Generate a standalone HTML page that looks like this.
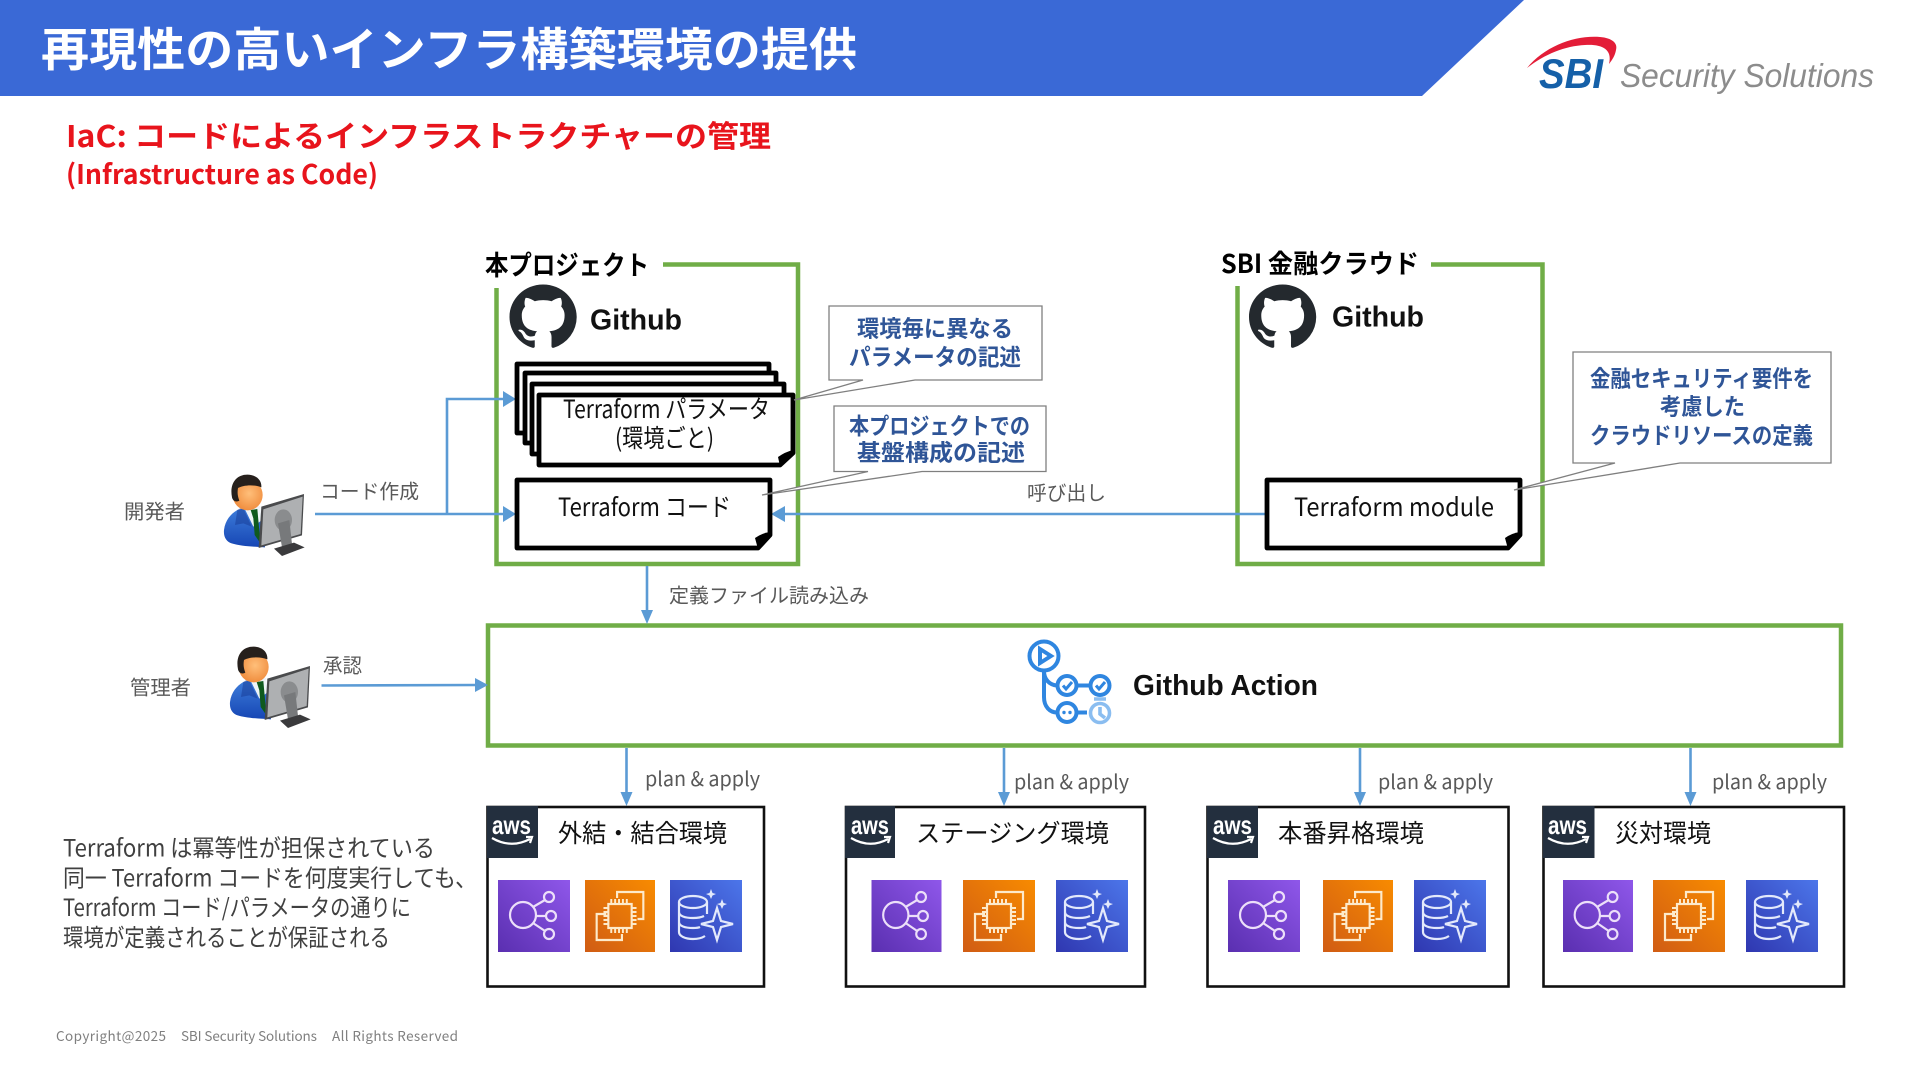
<!DOCTYPE html>
<html lang="ja"><head><meta charset="utf-8"><title>再現性の高いインフラ構築環境の提供</title>
<style>
html,body{margin:0;padding:0;background:#fff;width:1920px;height:1080px;overflow:hidden}
svg{display:block}
text{font-family:"Noto Sans CJK JP","Liberation Sans",sans-serif}
.lib{font-family:"Liberation Sans","Noto Sans CJK JP",sans-serif}
.b{font-weight:700}
.gr{fill:#595959;font-size:20px}
.blk{fill:#111;font-size:25px}
.cal{fill:#2F5597;font-size:23px;font-weight:700}
.lt{fill:#404040;font-size:24px}
.doc{fill:#fff;stroke:#000;stroke-width:4.800;stroke-linejoin:round}
.gb{fill:none;stroke:#70AD47;stroke-width:4.5;stroke-linejoin:miter}
.ar{stroke:#5B9BD5;stroke-width:2.6;fill:none}
.ah{fill:#5B9BD5}
.co{fill:#fff;stroke:#7f7f7f;stroke-width:1.3}
.env{fill:#fff;stroke:#111;stroke-width:2.6}
</style></head><body>
<svg xmlns="http://www.w3.org/2000/svg" width="1920" height="1080" viewBox="0 0 1920 1080">
<defs>
<linearGradient id="gp" x1="0" y1="1" x2="1" y2="0"><stop offset="0" stop-color="#5a2fb0"/><stop offset="1" stop-color="#8f57ea"/></linearGradient>
<linearGradient id="go" x1="0" y1="1" x2="1" y2="0"><stop offset="0" stop-color="#d05c14"/><stop offset="1" stop-color="#f88b00"/></linearGradient>
<linearGradient id="gb" x1="0" y1="1" x2="1" y2="0"><stop offset="0" stop-color="#2f37b0"/><stop offset="1" stop-color="#4c76ea"/></linearGradient>
<linearGradient id="suit" x1="0" y1="0" x2="0" y2="1"><stop offset="0" stop-color="#3f7fdc"/><stop offset="1" stop-color="#1646b4"/></linearGradient>
<radialGradient id="face" cx=".55" cy=".45" r=".6"><stop offset="0" stop-color="#ffbf7a"/><stop offset="1" stop-color="#ef8a3a"/></radialGradient>
<path id="octo" fill="#24292E" transform="scale(4.2,4.06)" d="M8 0C3.58 0 0 3.58 0 8c0 3.54 2.29 6.53 5.47 7.59.4.07.55-.17.55-.38 0-.19-.01-.82-.01-1.49-2.01.37-2.53-.49-2.69-.94-.09-.23-.48-.94-.82-1.13-.28-.15-.68-.52-.01-.53.63-.01 1.08.58 1.23.82.72 1.21 1.87.87 2.33.66.07-.52.28-.87.51-1.07-1.78-.2-3.64-.89-3.64-3.95 0-.87.31-1.59.82-2.15-.08-.2-.36-1.02.08-2.12 0 0 .67-.21 2.2.82.64-.18 1.32-.27 2-.27.68 0 1.36.09 2 .27 1.53-1.04 2.2-.82 2.2-.82.44 1.1.16 1.92.08 2.12.51.56.82 1.27.82 2.15 0 3.07-1.87 3.75-3.65 3.95.29.25.54.73.54 1.48 0 1.07-.01 1.93-.01 2.2 0 .21.15.46.55.38A8.013 8.013 0 0016 8c0-4.42-3.58-8-8-8z"/>
<symbol id="ip" viewBox="0 0 72 72" preserveAspectRatio="none">
<rect width="72" height="72" fill="url(#gp)"/>
<g fill="none" stroke="#ecdff9" stroke-width="2.2"><circle cx="25" cy="35" r="13"/><circle cx="51" cy="17" r="5"/><circle cx="53" cy="36" r="5"/><circle cx="51" cy="54" r="5"/><path d="M35 27L47 20M38 36H48M35 43L47 51"/></g></symbol>
<symbol id="io" viewBox="0 0 72 72" preserveAspectRatio="none">
<rect width="72" height="72" fill="url(#go)"/>
<g fill="none" stroke="#fdeacb" stroke-width="2.2"><rect x="24" y="24" width="24" height="24"/><path d="M33 18V12H60V39H54M22 34H12V60H38V54"/><path stroke-width="2" d="M27 24V19M31 24V19M35 24V19M39 24V19M43 24V19M27 53V48M31 53V48M35 53V48M39 53V48M43 53V48M19 28H24M19 32H24M19 36H24M19 40H24M19 44H24M48 28H53M48 32H53M48 36H53M48 40H53M48 44H53"/></g></symbol>
<symbol id="ib" viewBox="0 0 72 72" preserveAspectRatio="none">
<rect width="72" height="72" fill="url(#gb)"/>
<g fill="none" stroke="#e3e9fb" stroke-width="2.2"><ellipse cx="23" cy="22" rx="14" ry="6"/><path d="M9 22V52C9 56 15 59 23 59C28 59 32 58 35 56M37 22V34M9 32C9 36 15 38 23 38C28 38 32 37 34 36M9 42C9 46 15 48 23 48C26 48 28 48 30 47"/><path d="M47 28L51 41L63 44L51 47L47 60L43 47L31 44L43 41Z"/></g>
<path fill="#e3e9fb" d="M41 9L42.5 13L46 14L42.5 15.500L41 19L39.500 15.500L36 14L39.500 13ZM52 19L53.500 23L57 24L53.500 25.500L52 29L50.500 25.500L47 24L50.500 23Z"/></symbol>
<symbol id="person" viewBox="0 0 420 330" preserveAspectRatio="none">
<path fill="url(#suit)" d="M112 150L150 140L180 150L195 262C160 260 120 258 95 250C80 245 70 232 72 210C76 180 92 162 112 150Z"/>
<path fill="#eef4f8" d="M132 142L180 138L186 180L160 200Z"/>
<path fill="#0f5a1e" d="M152 150L172 147L180 235L180 248L164 225L160 175Z"/>
<path fill="#15368e" d="M112 150L128 140L155 200L130 190L105 195Z" opacity=".45"/>
<ellipse cx="143" cy="105" rx="45" ry="46" fill="url(#face)"/>
<path fill="#26201c" d="M96 112C88 72 108 44 142 44C170 44 186 62 184 82C160 72 128 76 114 84C112 96 112 106 118 122C108 128 98 122 96 112Z"/>
<path fill="#4a4b4d" d="M184 140L312 102L306 226L176 264Z"/>
<path fill="#aeb0b2" d="M190 148L308 110L302 222L184 256Z"/>
<ellipse cx="250" cy="180" rx="26" ry="32" fill="#8a8c8e"/>
<path fill="#77797b" d="M234 190L268 180L276 252L246 262Z"/>
<path fill="#3a3a3c" d="M222 266L282 248L314 262L246 288Z"/>
</symbol>
</defs>

<polygon points="0,0 1524,0 1422,96 0,96" fill="#3A69D6"/>
<text x="41" y="66" class="b" font-size="46" fill="#fff" textLength="816" lengthAdjust="spacingAndGlyphs">再現性の高いインフラ構築環境の提供</text>

<path d="M1527 68C1545 46 1575 35 1600 37C1612 38 1618 43 1616 50C1615 56 1612 60 1609 64C1613 48 1600 44 1585 45C1565 46 1545 54 1527 68Z" fill="#E31D38"/>
<text x="1539" y="88" class="lib b" font-style="italic" font-size="42" fill="#1560A8" textLength="64" lengthAdjust="spacingAndGlyphs">SBI</text>
<text x="1620" y="87" class="lib" font-style="italic" font-size="33" fill="#8c8c8c" textLength="254" lengthAdjust="spacingAndGlyphs">Security Solutions</text>

<text x="66" y="147" class="b" font-size="30" fill="#E8141C" textLength="705" lengthAdjust="spacingAndGlyphs">IaC: コードによるインフラストラクチャーの管理</text>
<text x="66" y="184" class="b" font-size="27" fill="#E8141C" textLength="312" lengthAdjust="spacingAndGlyphs">(Infrastructure as Code)</text>

<!-- green containers -->
<path class="gb" d="M663 264.500H798V564H496.500V288"/>
<text x="485" y="275" class="b" font-size="27" fill="#000" textLength="164" lengthAdjust="spacingAndGlyphs">本プロジェクト</text>
<path class="gb" d="M1431 264.500H1542.500V564H1237.500V286"/>
<text x="1221" y="273" class="b" font-size="26" fill="#000" textLength="198" lengthAdjust="spacingAndGlyphs">SBI 金融クラウド</text>

<g transform="translate(509.500,284.500)"><use href="#octo"/></g>
<g transform="translate(1249,284.500)"><use href="#octo"/></g>
<text x="590" y="329.500" class="lib b" font-size="29" fill="#111" textLength="92" lengthAdjust="spacingAndGlyphs">Github</text>
<text x="1332" y="326.500" class="lib b" font-size="29" fill="#111" textLength="92" lengthAdjust="spacingAndGlyphs">Github</text>

<!-- arrows developer -->
<path class="ar" d="M315 514H505M447 514V399H505M783 514H1268"/>
<polygon class="ah" points="503,506 516,514 503,522"/>
<polygon class="ah" points="503,391 516,399 503,407"/>
<polygon class="ah" points="785,506 771,514 785,522"/>

<!-- docs -->
<path class="doc" d="M517 364H769V433H517Z"/>
<path class="doc" d="M525 373H776V443H525Z"/>
<path class="doc" d="M532 384H784V454H532Z"/>
<path class="doc" d="M539 395H793V453L780 465H539Z"/>
<path fill="#000" d="M793 450L780 466L778 457Q785 452 793 450Z"/>
<path class="doc" d="M517 480H770V535L758 548H517Z"/>
<path fill="#000" d="M770 532L758 549L755 538Q762 533 770 532Z"/>
<path class="doc" d="M1267 480H1520V535L1508 548H1267Z"/>
<path fill="#000" d="M1520 532L1508 549L1505 538Q1512 533 1520 532Z"/>

<text x="563" y="418" class="blk" textLength="207" lengthAdjust="spacingAndGlyphs">Terraform パラメータ</text>
<text x="615" y="447" class="blk" textLength="99" lengthAdjust="spacingAndGlyphs">(環境ごと)</text>
<text x="558" y="516" class="blk" textLength="173" lengthAdjust="spacingAndGlyphs">Terraform コード</text>
<text x="1294" y="516" class="blk" textLength="200" lengthAdjust="spacingAndGlyphs">Terraform module</text>

<!-- callouts -->
<path class="co" d="M829 306H1042V380H915L794 400L863 380H829Z"/>
<text x="857" y="336.500" class="cal" textLength="156" lengthAdjust="spacingAndGlyphs">環境毎に異なる</text>
<text x="849" y="365" class="cal" textLength="172" lengthAdjust="spacingAndGlyphs">パラメータの記述</text>
<path class="co" d="M834 406H1046V471.500H922L762 495L868 471.500H834Z"/>
<text x="849" y="434" class="cal" textLength="181" lengthAdjust="spacingAndGlyphs">本プロジェクトでの</text>
<text x="857" y="460.500" class="cal" textLength="168" lengthAdjust="spacingAndGlyphs">基盤構成の記述</text>
<path class="co" d="M1573 352H1831V463H1680L1514 490L1615 463H1573Z"/>
<text x="1590" y="386.500" class="cal" textLength="223" lengthAdjust="spacingAndGlyphs">金融セキュリティ要件を</text>
<text x="1660" y="414.500" class="cal" textLength="85" lengthAdjust="spacingAndGlyphs">考慮した</text>
<text x="1590" y="443.500" class="cal" textLength="223" lengthAdjust="spacingAndGlyphs">クラウドリソースの定義</text>

<!-- labels -->
<text x="124" y="518.500" class="gr" textLength="61" lengthAdjust="spacingAndGlyphs">開発者</text>
<text x="130" y="694.500" class="gr" textLength="61" lengthAdjust="spacingAndGlyphs">管理者</text>
<text x="320" y="498.500" class="gr" textLength="99" lengthAdjust="spacingAndGlyphs">コード作成</text>
<text x="1027" y="500" class="gr" textLength="79" lengthAdjust="spacingAndGlyphs">呼び出し</text>
<text x="669" y="602.500" class="gr" textLength="200" lengthAdjust="spacingAndGlyphs">定義ファイル読み込み</text>
<text x="323" y="672.500" class="gr" textLength="39" lengthAdjust="spacingAndGlyphs">承認</text>

<use href="#person" x="200" y="460" width="140" height="110"/>
<use href="#person" x="206" y="632" width="140" height="110"/>

<!-- Github Action -->
<rect x="488" y="625.500" width="1353" height="120" fill="#fff" stroke="#70AD47" stroke-width="4.500"/>
<path class="ar" d="M647 566V612"/><polygon class="ah" points="641,610 653,610 647,624"/>
<path class="ar" d="M321.500 685.500L478 685"/><polygon class="ah" points="475,678 488,685 475,692"/>
<g fill="none" stroke="#2F86E0" stroke-width="4">
<circle cx="1044" cy="656" r="14.500"/>
<path d="M1044 671V671C1044 680 1050 685 1057 685.500M1044 671V697C1044 707 1050 712.500 1057 712.500"/>
<circle cx="1067" cy="685.500" r="9.500"/><circle cx="1100" cy="685.500" r="9.500"/><circle cx="1067" cy="712.500" r="9.500"/>
<path d="M1077 685.500H1090M1077 712.500H1087"/>
<path d="M1063 685.500L1066 689L1072 682M1096 685.500L1099 689L1105 682" stroke-width="3"/>
<path d="M1040 649L1051 656L1040 663Z"/>
</g>
<circle cx="1064" cy="712.500" r="1.700" fill="#2F86E0"/><circle cx="1070" cy="712.500" r="1.700" fill="#2F86E0"/>
<g fill="none" stroke="#8ABDF0" stroke-width="3.600"><circle cx="1100" cy="713" r="9.500"/><path d="M1100 707V714L1105 718M1094 699H1106"/></g>
<text x="1133" y="695" class="lib b" font-size="29" fill="#111" textLength="185" lengthAdjust="spacingAndGlyphs">Github Action</text>

<!-- plan arrows -->
<path class="ar" stroke-width="2" d="M626.500 748V794M1004 748V794M1360 748V794M1690.500 748V794"/>
<polygon class="ah" points="620.500,792 632.500,792 626.500,806"/>
<polygon class="ah" points="998,792 1010,792 1004,806"/>
<polygon class="ah" points="1354,792 1366,792 1360,806"/>
<polygon class="ah" points="1684.500,792 1696.500,792 1690.500,806"/>
<text x="645" y="786" class="gr" textLength="115" lengthAdjust="spacingAndGlyphs">plan &amp; apply</text>
<text x="1014" y="789" class="gr" textLength="115" lengthAdjust="spacingAndGlyphs">plan &amp; apply</text>
<text x="1378" y="789" class="gr" textLength="115" lengthAdjust="spacingAndGlyphs">plan &amp; apply</text>
<text x="1712" y="789" class="gr" textLength="115" lengthAdjust="spacingAndGlyphs">plan &amp; apply</text>

<!-- env boxes -->
<rect class="env" x="487.500" y="807" width="276.500" height="179.500"/>
<rect class="env" x="846" y="807" width="299" height="179.500"/>
<rect class="env" x="1207.500" y="807" width="301" height="179.500"/>
<rect class="env" x="1543.500" y="807" width="300.500" height="179.500"/>

<rect x="487" y="806" width="51" height="52" fill="#232F3E"/>
<rect x="845" y="806" width="50" height="52" fill="#232F3E"/>
<rect x="1207" y="806" width="51" height="52" fill="#232F3E"/>
<rect x="1543" y="806" width="51.500" height="52" fill="#232F3E"/>
<g font-size="26">
<text class="lib" x="492" y="834" textLength="39" lengthAdjust="spacingAndGlyphs" fill="#fff" font-weight="700">aws</text>
<text class="lib" x="851" y="834" textLength="38" lengthAdjust="spacingAndGlyphs" fill="#fff" font-weight="700">aws</text>
<text class="lib" x="1213" y="834" textLength="39" lengthAdjust="spacingAndGlyphs" fill="#fff" font-weight="700">aws</text>
<text class="lib" x="1548" y="834" textLength="39" lengthAdjust="spacingAndGlyphs" fill="#fff" font-weight="700">aws</text>
</g>
<g fill="none" stroke="#fff" stroke-width="2.200">
<path d="M492 838Q511 849 530 839M526 837L532 837L530 843"/>
<path d="M851 838Q870 849 888 839M884 837L890 837L888 843"/>
<path d="M1213 838Q1232 849 1251 839M1247 837L1253 837L1251 843"/>
<path d="M1548 838Q1567 849 1586 839M1582 837L1588 837L1586 843"/>
</g>
<text x="558" y="842" class="blk" font-size="24" textLength="169" lengthAdjust="spacingAndGlyphs">外結・結合環境</text>
<text x="916" y="842" class="blk" font-size="24" textLength="193" lengthAdjust="spacingAndGlyphs">ステージング環境</text>
<text x="1278" y="842" class="blk" font-size="24" textLength="146" lengthAdjust="spacingAndGlyphs">本番昇格環境</text>
<text x="1615" y="842" class="blk" font-size="24" textLength="96" lengthAdjust="spacingAndGlyphs">災対環境</text>

<use href="#ip" x="498" y="880" width="72" height="72"/><use href="#io" x="585" y="880" width="70" height="72"/><use href="#ib" x="670" y="880" width="72" height="72"/>
<use href="#ip" x="871.500" y="880" width="70" height="72"/><use href="#io" x="963" y="880" width="72" height="72"/><use href="#ib" x="1056" y="880" width="72" height="72"/>
<use href="#ip" x="1228" y="880" width="72" height="72"/><use href="#io" x="1323" y="880" width="70" height="72"/><use href="#ib" x="1414" y="880" width="72" height="72"/>
<use href="#ip" x="1563" y="880" width="70" height="72"/><use href="#io" x="1653" y="880" width="72" height="72"/><use href="#ib" x="1746" y="880" width="72" height="72"/>

<!-- left text -->
<text x="63" y="856.500" class="lt" textLength="372" lengthAdjust="spacingAndGlyphs">Terraform は冪等性が担保されている</text>
<text x="63" y="886.500" class="lt" textLength="414" lengthAdjust="spacingAndGlyphs">同一 Terraform コードを何度実行しても、</text>
<text x="63" y="916" class="lt" textLength="348" lengthAdjust="spacingAndGlyphs">Terraform コード/パラメータの通りに</text>
<text x="63" y="946" class="lt" textLength="327" lengthAdjust="spacingAndGlyphs">環境が定義されることが保証される</text>

<g fill="#7f7f7f" font-size="13.500">
<text x="56" y="1041" textLength="110" lengthAdjust="spacing">Copyright@2025</text>
<text x="181" y="1041" textLength="136" lengthAdjust="spacing">SBI Security Solutions</text>
<text x="332" y="1041" textLength="126" lengthAdjust="spacing">All Rights Reserved</text>
</g>
</svg>
</body></html>
